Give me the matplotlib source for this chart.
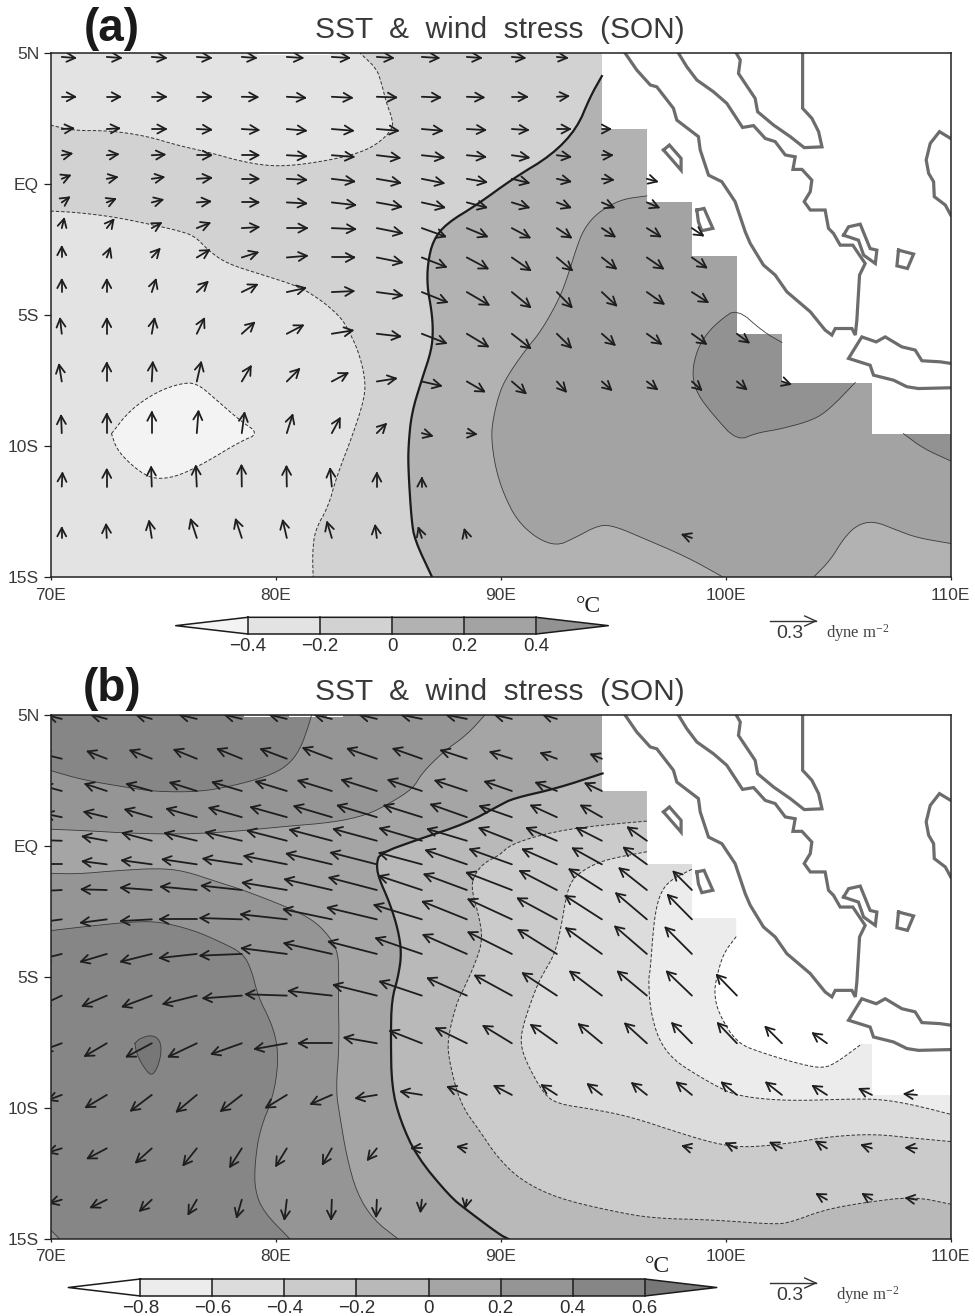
import numpy as np
import matplotlib
matplotlib.use('Agg')
import matplotlib.pyplot as plt
from matplotlib.collections import LineCollection

plt.rcParams['font.family'] = ['Liberation Sans', 'DejaVu Sans']
plt.rcParams['mathtext.default'] = 'regular'

W, H = 975, 1316
n = float('nan')

# ---------- axis labels ----------
X_TICKS = [70, 80, 90, 100, 110]
X_LABELS = ['70E', '80E', '90E', '100E', '110E']
Y_TICKS = [5, 0, -5, -10, -15]
Y_LABELS = ['5N', 'EQ', '5S', '10S', '15S']

# ---------- colour levels ----------
LEVELS_A = [-0.4, -0.2, 0, 0.2, 0.4]
COLORS_A = ['#f3f3f3', '#e3e3e3', '#d2d2d2', '#b2b2b2', '#a3a3a3', '#929292']
LEVELS_B = [-0.8, -0.6, -0.4, -0.2, 0, 0.2, 0.4, 0.6]
COLORS_B = ['#ffffff', '#ececec', '#dcdcdc', '#cbcbcb', '#b9b9b9', '#a5a5a5', '#959595', '#868686', '#777777']

# ---------- ocean mask (staircase edge of the SST grid), lon/lat ----------
MASK = [(94.5, 5), (94.5, 2.1), (96.5, 2.1), (96.5, -0.67), (98.5, -0.67), (98.5, -2.75), (100.5, -2.75),
        (100.5, -5.72), (102.5, -5.72), (102.5, -7.57), (106.5, -7.57), (106.5, -9.52), (110, -9.52), (110, 5)]
TOP_GAPS_A = [(79.2, 82.4)]
TOP_GAPS_B = [(78.6, 79.8), (80.6, 81.8), (82.3, 83.0)]

# ---------- coastlines, lon/lat ----------
COAST_SUMATRA = [(95.53, 5), (96.05, 4.35), (96.65, 3.78), (96.94, 3.71), (97.68, 2.89), (97.83, 2.44), (98.79, 1.81),
                 (98.87, 1.3), (99.24, 0.34), (99.83, 0.09), (100.42, -0.67), (100.87, -1.82), (101.09, -2.26),
                 (101.68, -3.09), (102.2, -3.47), (102.72, -4.11), (103.76, -4.87), (104.42, -5.57), (104.72, -5.76),
                 (104.87, -5.51), (105.61, -5.51), (105.76, -5.76), (105.83, -5.19), (105.95, -3.47), (106.2, -3.03),
                 (105.9, -2.65), (105.65, -2.33), (105.09, -2.33), (104.79, -1.88), (104.57, -1.69), (104.42, -0.99),
                 (103.76, -0.99), (103.49, -0.67), (103.76, -0.29), (103.83, 0.15), (103.39, 0.56), (102.99, 0.56),
                 (103.09, 1.04), (102.65, 1.11), (102.2, 1.62), (101.76, 1.74), (101.24, 2.23), (100.75, 2.16),
                 (100.05, 3.08), (99.46, 3.52), (98.72, 3.97), (98.27, 4.48), (97.9, 5)]
COAST_MALAY = [(100.47, 5), (100.65, 4.73), (100.57, 4.22), (101.31, 3.27), (101.42, 2.76), (102.13, 2.25),
               (102.87, 1.81), (103.49, 1.39), (104.28, 1.42), (104.13, 2.0), (103.83, 2.51), (103.42, 2.89), (103.42, 5)]
COAST_BANGKA = [(105.24, -1.95), (105.46, -1.63), (105.98, -1.53), (106.42, -2.46), (106.72, -2.52), (106.65, -3.03),
                (106.13, -2.71), (105.9, -2.14), (105.24, -1.95)]
COAST_BELITUNG = [(107.68, -2.52), (108.35, -2.67), (108.08, -3.22), (107.61, -3.12), (107.68, -2.52)]
COAST_NIAS = [(97.24, 1.3), (97.5, 1.49), (98.02, 0.98), (98.02, 0.53), (97.24, 1.3)]
COAST_SIBERUT = [(98.72, -0.99), (99.04, -0.93), (99.43, -1.69), (98.94, -1.78), (98.79, -1.44), (98.72, -0.99)]
COAST_BORNEO = [(110, 1.74), (109.5, 2.0), (109.09, 1.55), (108.91, 0.92), (109.02, 0.41), (109.24, 0.09),
                (109.27, -0.48), (109.76, -0.8), (110, -1.18)]
COAST_JAVA = [(110, -6.84), (109.53, -6.78), (108.72, -6.74), (108.42, -6.33), (107.83, -6.21), (107.09, -5.83),
              (106.69, -6.02), (106.05, -5.83), (105.46, -6.65), (106.42, -6.91), (106.57, -7.29), (107.46, -7.48),
              (108.05, -7.73), (108.57, -7.8), (110, -7.77)]
COASTS = [COAST_SUMATRA, COAST_MALAY, COAST_BANGKA, COAST_BELITUNG, COAST_NIAS, COAST_SIBERUT, COAST_BORNEO, COAST_JAVA]

# ---------- panel (a) contours, lon/lat ----------
A_M02_NORTH = [(70, 2.25), (71.0, 2.04), (72.64, 2.04), (74.27, 1.83), (75.6, 1.49), (77.08, 1.2), (78.41, 0.88),
               (79.6, 0.7), (80.64, 0.7), (81.97, 0.85), (83.45, 1.11), (84.49, 1.49), (85.23, 2.12), (85.16, 2.57),
               (84.93, 3.08), (84.71, 3.84), (84.49, 4.41), (83.75, 5)]
A_M02_SOUTH = [(70, -1.03), (71.16, -1.08), (72.8, -1.25), (74.4, -1.53), (75.6, -1.76), (76.41, -1.98), (77.0, -2.52),
               (77.82, -3.03), (79.45, -3.47), (81.08, -3.92), (82.12, -4.49), (82.86, -5.06), (83.16, -5.44),
               (83.67, -6.34), (83.97, -7.35), (83.97, -8.12), (83.45, -9.52), (82.71, -11.17), (82.34, -12.31),
               (81.75, -13.2), (81.64, -14.1), (81.67, -15)]
A_M04_BLOB = [(72.71, -9.52), (73.53, -8.62), (74.71, -7.93), (75.75, -7.61), (76.49, -7.58), (77.38, -8.24),
              (78.41, -9.01), (79.27, -9.52), (78.41, -9.83), (76.93, -10.6), (75.75, -11.11), (74.86, -11.26),
              (74.19, -11.11), (73.45, -10.6), (72.93, -10.09), (72.71, -9.52)]
A_ZERO = [(94.5, 4.12), (93.98, 3.33), (93.39, 2.12), (92.28, 1.11), (90.57, 0.22), (88.93, -0.8), (87.6, -1.5),
          (87.0, -2.14), (86.76, -3.03), (86.74, -3.92), (86.93, -4.81), (87.0, -5.57), (86.93, -6.34), (86.49, -7.48),
          (86.04, -8.75), (85.9, -10.02), (85.9, -10.9), (86.04, -12.82), (86.19, -13.59), (86.96, -15)]
A_P02 = [(96.5, -0.45), (95.46, -0.57), (94.72, -0.87), (94.13, -1.25), (93.68, -1.76), (93.39, -2.39), (93.02, -3.41),
         (92.65, -4.3), (91.83, -5.57), (91.16, -6.27), (90.42, -7.16), (89.98, -7.86), (89.68, -8.88), (89.58, -9.64),
         (89.76, -10.79), (90.13, -11.81), (90.72, -12.82), (91.61, -13.52), (92.5, -13.8), (93.24, -13.52),
         (94.42, -12.98), (95.16, -13.08), (96.2, -13.46), (98.27, -14.22), (99.9, -15)]
A_P02_SE = [(103.9, -15), (104.65, -14.35), (105.24, -13.52), (105.83, -13.01), (106.57, -12.85), (107.6, -13.2),
            (108.5, -13.49), (110, -13.71)]
A_P04_BLOB = [(102.5, -6.04), (101.68, -5.64), (100.5, -4.75), (99.76, -5.19), (99.16, -5.7), (98.72, -6.34),
              (98.5, -7.23), (98.72, -7.99), (99.46, -8.82), (100.5, -9.8), (101.39, -9.49), (102.42, -9.35),
              (103.9, -9.0), (104.65, -8.56), (105.76, -7.57)]
A_P04_CORNER = [(107.9, -9.52), (108.79, -10.09), (110, -10.56)]

# ---------- panel (b) contours, lon/lat ----------
B_P04_NORTH = [(70, 2.88), (71.45, 2.52), (73.38, 2.24), (74.71, 2.07), (76.64, 2.07), (78.12, 2.3), (79.6, 2.65),
               (80.49, 3.03), (81.08, 3.66), (81.45, 4.55), (81.6, 5)]
B_P02_NORTH = [(70, 0.64), (71.45, 0.59), (73.67, 0.48), (75.9, 0.45), (78.12, 0.55), (80.34, 0.74), (82.56, 0.9),
               (84.04, 1.18), (85.08, 1.63), (86.12, 2.2), (86.49, 2.77), (87.46, 3.6), (88.5, 4.24), (89.3, 5)]
B_P02_SOUTH = [(70, -1.04), (71.16, -1.07), (72.93, -0.94), (74.71, -0.85), (75.9, -0.94), (77.38, -1.36),
               (78.56, -1.68), (80.49, -2.32), (81.67, -2.82), (82.41, -3.46), (82.79, -4.1), (82.81, -5.11),
               (82.79, -5.62), (82.83, -7.65), (82.68, -9.31), (82.86, -10.33), (83.16, -11.85), (83.61, -13.25),
               (84.35, -14.27), (85.45, -15)]
B_P04_SOUTH = [(70, -3.23), (71.9, -3.04), (73.67, -2.89), (74.86, -2.89), (76.34, -3.21), (77.53, -3.65),
               (78.56, -4.1), (78.93, -4.73), (79.23, -5.75), (79.75, -6.64), (80.04, -7.4), (80.12, -8.29),
               (79.9, -9.56), (79.3, -10.84), (79.08, -12.11), (79.08, -13.13), (79.45, -13.95), (80.64, -15)]
B_P06_BLOB = [(73.75, -7.53), (73.97, -7.34), (74.5, -7.21), (74.86, -7.4), (74.93, -7.85), (74.78, -8.42),
              (74.49, -8.8), (74.12, -8.42), (73.82, -7.91), (73.75, -7.53)]
B_P02_CORNER = [(70, -14.65), (70.41, -15)]
B_ZERO = [(94.53, 2.77), (92.5, 2.2), (90.57, 1.82), (89.97, 1.56), (88.5, 0.87), (86.27, 0.23), (84.64, -0.28),
          (84.49, -0.66), (84.56, -1.17), (85.08, -2.19), (85.45, -3.21), (85.6, -4.1), (85.45, -4.99), (85.16, -5.87),
          (85.12, -7.27), (85.16, -9.18), (85.53, -10.45), (86.27, -11.85), (87.75, -13.38), (88.49, -13.89),
          (89.97, -14.84), (90.35, -15)]
B_M02 = [(96.5, 0.95), (95.02, 0.84), (93.24, 0.67), (91.76, 0.42), (90.42, 0.04), (89.97, -0.34), (89.23, -0.66),
         (88.79, -1.17), (88.71, -1.68), (89.08, -2.82), (89.19, -3.59), (88.93, -4.35), (88.41, -5.37), (88.04, -6.0),
         (87.67, -7.27), (87.67, -8.04), (88.19, -9.82), (89.09, -10.9), (89.83, -11.85), (90.87, -12.74), (92.5, -13.44),
         (95.02, -13.95), (96.79, -14.21), (99.46, -14.27), (102.13, -14.44), (102.87, -14.37), (104.35, -13.89),
         (106.13, -13.61), (108.35, -13.38), (110, -13.67)]
B_M04 = [(96.5, -0.22), (95.31, -0.41), (94.42, -0.6), (93.68, -0.92), (93.16, -1.3), (92.91, -1.93), (92.72, -2.95),
         (92.42, -4.1), (91.9, -4.86), (91.6, -5.36), (91.02, -6.76), (90.87, -7.53), (91.16, -8.29), (91.9, -9.44),
         (92.5, -9.84), (94.13, -10.05), (95.76, -10.33), (97.98, -10.96), (99.46, -11.34), (100.65, -11.5),
         (101.98, -11.43), (103.16, -11.3), (104.64, -11.09), (106.57, -10.99), (108.35, -11.15), (110, -11.28)]
B_M06 = [(98.5, -0.89), (97.53, -1.3), (97.09, -1.81), (96.87, -2.57), (96.76, -3.46), (96.65, -4.73), (96.57, -5.11),
         (96.65, -6.25), (97.02, -7.4), (97.68, -8.16), (98.72, -8.74), (99.9, -9.31), (100.57, -9.52), (101.68, -9.66),
         (103.16, -9.72), (105.39, -9.66), (106.87, -9.66), (108.35, -9.88), (110, -10.24)]
B_M08 = [(100.47, -3.46), (99.9, -4.1), (99.6, -5.0), (99.49, -5.62), (99.68, -6.38), (100.5, -7.53), (101.68, -7.91),
         (103.16, -8.29), (104.2, -8.48), (104.79, -8.35), (106.05, -7.55)]

# ---------- wind stress vectors (tail on this grid) ----------
LONS = [70.5, 72.5, 74.5, 76.5, 78.5, 80.5, 82.5, 84.5, 86.5, 88.5, 90.5, 92.5, 94.5, 96.5, 98.5, 100.5, 102.5, 104.5, 106.5, 108.5]
LATS = [4.85, 3.33, 2.1, 1.1, 0.2, -0.7, -1.68, -2.8, -4.12, -5.71, -7.53, -9.5, -11.54, -13.5]
KEY_READ = 137.0

U_A = [
 [40, 42, 42, 42, 42, 47, 52, 48, 50, 42, 38, 30, n, n, n, n, n, n, n, n],
 [40, 40, 42, 43, 47, 55, 60, 58, 55, 50, 45, 34, n, n, n, n, n, n, n, n],
 [34, 37, 42, 43, 50, 57, 63, 63, 60, 55, 48, 39, 25, n, n, n, n, n, n, n],
 [29, 33, 38, 43, 50, 58, 65, 68, 65, 55, 50, 40, 30, n, n, n, n, n, n, n],
 [24, 30, 35, 43, 50, 58, 67, 70, 65, 58, 50, 40, 33, 30, n, n, n, n, n, n],
 [22, 25, 32, 40, 50, 58, 70, 73, 67, 58, 50, 40, 35, 35, n, n, n, n, n, n],
 [7, 20, 27, 38, 50, 60, 70, 75, 70, 60, 53, 42, 38, 40, 33, n, n, n, n, n],
 [0, 10, 23, 37, 47, 60, 67, 75, 72, 62, 55, 45, 42, 48, 43, n, n, n, n, n],
 [0, 0, 12, 32, 45, 55, 65, 75, 75, 65, 55, 44, 43, 50, 47, n, n, n, n, n],
 [-5, 0, 8, 22, 37, 48, 62, 70, 72, 63, 55, 42, 38, 42, 42, 35, n, n, n, n],
 [-8, 0, 3, 13, 27, 37, 47, 57, 57, 52, 41, 27, 28, 30, 28, 28, 25, n, n, n],
 [-2, 0, 0, 5, 8, 17, 24, 27, 30, 27, n, n, n, n, n, n, n, n, n, n],
 [2, 0, -2, -3, -1, -1, -5, 0, 0, n, n, n, n, n, n, n, n, n, n, n],
 [0, -2, -8, -18, -18, -12, -14, -5, -10, -7, n, n, n, n, -28, n, n, n, n, n],
]
V_A = [
 [-3, -3, -3, -3, -3, -3, -3, -3, -3, -3, -3, -3, n, n, n, n, n, n, n, n],
 [0, 0, 0, 0, -1, -3, -3, -2, -2, -2, 0, 2, n, n, n, n, n, n, n, n],
 [2, 2, 0, -2, -3, -5, -5, -5, -5, -3, -3, 0, 0, n, n, n, n, n, n, n],
 [5, 3, 2, 0, 0, -3, -5, -8, -7, -5, -7, -5, 0, n, n, n, n, n, n, n],
 [10, 5, 5, 3, 0, -3, -8, -12, -13, -10, -12, -8, -3, -8, n, n, n, n, n, n],
 [15, 10, 8, 3, 0, -3, -8, -13, -15, -15, -15, -15, -15, -15, n, n, n, n, n, n],
 [28, 25, 15, 15, 3, 0, -3, -15, -25, -25, -28, -28, -25, -25, -22, n, n, n, n, n],
 [32, 27, 25, 22, 15, 5, 0, -15, -28, -33, -38, -38, -33, -33, -30, n, n, n, n, n],
 [37, 37, 37, 30, 22, 12, 3, -10, -30, -38, -45, -45, -40, -35, -30, n, n, n, n, n],
 [45, 45, 45, 45, 33, 25, 10, -8, -28, -38, -43, -41, -33, -30, -30, -26, n, n, n, n],
 [50, 55, 57, 57, 45, 37, 25, 9, -13, -30, -35, -30, -25, -23, -25, -23, -8, n, n, n],
 [52, 57, 62, 65, 60, 54, 44, 27, -8, -3, n, n, n, n, n, n, n, n, n, n],
 [40, 51, 58, 61, 63, 60, 53, 40, 25, n, n, n, n, n, n, n, n, n, n, n],
 [30, 40, 50, 55, 55, 52, 47, 37, 30, 25, n, n, n, n, 10, n, n, n, n, n],
]
U_B = [
 [-40, -45, -45, -50, -50, -50, -50, -50, -60, -60, -50, -40, n, n, n, n, n, n, n, n],
 [-60, -57, -64, -67, -72, -77, -85, -87, -85, -77, -64, -47, -32, n, n, n, n, n, n, n],
 [-55, -64, -74, -79, -87, -92, -100, -104, -100, -94, -80, -62, -49, n, n, n, n, n, n, n],
 [-50, -67, -79, -89, -97, -107, -112, -117, -112, -107, -95, -77, -62, n, n, n, n, n, n, n],
 [-60, -72, -87, -95, -107, -117, -125, -129, -125, -117, -97, -90, -75, -57, n, n, n, n, n, n],
 [-60, -72, -89, -102, -115, -127, -135, -137, -127, -122, -125, -102, -87, -69, n, n, n, n, n, n],
 [-60, -75, -92, -107, -120, -132, -140, -142, -127, -127, -135, -110, -97, -82, -55, n, n, n, n, n],
 [-60, -77, -92, -110, -124, -137, -144, -147, -142, -132, -130, -117, -109, -92, -72, n, n, n, n, n],
 [-60, -77, -92, -110, -124, -135, -142, -144, -137, -130, -130, -115, -107, -95, -79, n, n, n, n, n],
 [-60, -72, -87, -100, -115, -122, -129, -129, -125, -117, -110, -102, -95, -87, -75, -60, n, n, n, n],
 [-55, -65, -75, -84, -90, -95, -99, -97, -95, -92, -85, -77, -69, -65, -59, -57, -49, -42, n, n],
 [-40, -62, -62, -60, -62, -62, -62, -62, -62, -57, -52, -45, -42, -44, -45, -45, -47, -42, -37, -37],
 [-40, -57, -47, -40, -35, -32, -27, -27, -30, -27, n, n, n, n, -27, -32, -34, -32, -30, -32],
 [-35, -47, -35, -25, -15, -7, -2, -2, -4, -5, n, n, n, n, n, n, n, -30, -27, -32],
]
V_B = [
 [10, 12, 12, 12, 12, 12, 12, 12, 12, 12, 12, 12, n, n, n, n, n, n, n, n],
 [15, 22, 25, 27, 29, 29, 32, 30, 30, 25, 20, 17, 13, n, n, n, n, n, n, n],
 [15, 21, 21, 25, 26, 28, 31, 33, 33, 31, 28, 25, 23, n, n, n, n, n, n, n],
 [10, 16, 23, 25, 28, 30, 33, 35, 35, 38, 33, 35, 35, n, n, n, n, n, n, n],
 [2, 13, 23, 23, 25, 30, 33, 35, 37, 35, 38, 38, 38, 40, n, n, n, n, n, n],
 [0, 9, 12, 15, 17, 25, 32, 35, 34, 42, 45, 45, 48, 50, n, n, n, n, n, n],
 [-3, 2, 7, 10, 13, 22, 32, 37, 42, 47, 52, 57, 62, 65, 55, n, n, n, n, n],
 [-8, -10, -5, 0, 4, 15, 30, 35, 43, 53, 60, 63, 70, 78, 73, n, n, n, n, n],
 [-15, -23, -23, -12, -5, 17, 32, 37, 47, 57, 65, 72, 77, 82, 79, n, n, n, n, n],
 [-28, -31, -33, -25, -8, 4, 14, 32, 42, 52, 60, 67, 72, 72, 72, 62, n, n, n, n],
 [-20, -38, -40, -40, -32, -17, 0, 17, 37, 45, 52, 55, 57, 59, 60, 60, 49, 30, n, n],
 [-15, -37, -47, -50, -48, -38, -27, -10, 10, 24, 27, 29, 32, 35, 37, 37, 37, 27, 18, 3],
 [-12, -30, -42, -50, -55, -52, -47, -34, 0, 5, n, n, n, n, 7, 15, 17, 20, 10, 2],
 [-10, -23, -33, -43, -52, -58, -58, -50, -35, -23, n, n, n, n, n, n, n, 17, 17, 5],
]

KEY_PX = 45.7      # drawn length of the key arrow, pixels
PX_LON = 900.2 / 40
PX_LAT = 524.0 / 20
BARB_PX = 9.5
BARB_ANG = np.deg2rad(28)


def rounded(pts, passes=2):
    """Round the corners of a traced contour; the end points stay where they are."""
    for _ in range(passes):
        out = [pts[0]]
        for (x0, y0), (x1, y1) in zip(pts[:-1], pts[1:]):
            out.append((0.75 * x0 + 0.25 * x1, 0.75 * y0 + 0.25 * y1))
            out.append((0.25 * x0 + 0.75 * x1, 0.25 * y0 + 0.75 * y1))
        out.append(pts[-1])
        pts = out
    return pts


def arrow_segments(lons, lats, us, vs):
    """V-headed arrows in data coordinates."""
    segs = []
    for la, ru, rv in zip(lats, us, vs):
        for lo, u, v in zip(lons, ru, rv):
            if np.isnan(u) or np.isnan(v):
                continue
            px = u / KEY_READ * KEY_PX
            py = v / KEY_READ * KEY_PX
            hx, hy = lo + px / PX_LON, la + py / PX_LAT
            segs.append([(lo, la), (hx, hy)])
            a = np.arctan2(py, px)
            for s in (-1, 1):
                b = a + np.pi + s * BARB_ANG
                segs.append([(hx, hy), (hx + BARB_PX * np.cos(b) / PX_LON, hy + BARB_PX * np.sin(b) / PX_LAT)])
    return segs


def fill(ax, pts, color, z=1):
    xs, ys = zip(*pts)
    ax.fill(xs, ys, color=color, lw=0, zorder=z)


def line(ax, pts, kind):
    xs, ys = zip(*rounded(pts))
    if kind == 'zero':
        ax.plot(xs, ys, color='#1c1c1c', lw=1.6, zorder=3, solid_joinstyle='round')
    elif kind == 'pos':
        ax.plot(xs, ys, color='#3a3a3a', lw=0.6, zorder=3, solid_joinstyle='round')
    else:
        ax.plot(xs, ys, color='#333333', lw=0.7, zorder=3, linestyle=(0, (3.5, 2)))


def make_map(top, bottom, title_y, letter, letter_y, base):
    ax = fig.add_axes([50.5 / W, 1 - bottom / H, 900.2 / W, (bottom - top) / H])
    ax.set_xlim(70, 110)
    ax.set_ylim(-15, 5)
    ax.set_facecolor(base)
    ax.set_xticks(X_TICKS, X_LABELS)
    ax.set_yticks(Y_TICKS, Y_LABELS)
    ax.tick_params(axis='x', length=2.5, width=0.9, pad=5, labelsize=12.5, labelcolor='#3a3a3a', color='#222222')
    ax.tick_params(axis='y', length=4.7, width=0.9, pad=3.5, labelsize=12.5, labelcolor='#3a3a3a', color='#222222')
    for s in ax.spines.values():
        s.set_linewidth(1.1)
        s.set_color('#222222')
        s.set_zorder(6)
    fig.text(500 / W, 1 - title_y / H, 'SST  &  wind  stress  (SON)', ha='center', va='center', fontsize=21.5,
             color='#3a3a3a')
    fig.text(112 / W, 1 - letter_y / H, letter, ha='center', va='center', fontsize=33, fontweight='bold',
             color='#1a1a1a')
    return ax


def finish_map(ax, us, vs, gaps):
    fill(ax, MASK, 'white', z=2)
    for a, b in gaps:
        fill(ax, [(a, 4.94), (b, 4.94), (b, 5), (a, 5)], 'white', z=2)
    for c in COASTS:
        xs, ys = zip(*c)
        ax.plot(xs, ys, color='#6c6c6c', lw=2.3, zorder=3, solid_joinstyle='miter')
    ax.add_collection(LineCollection(arrow_segments(LONS, LATS, us, vs), colors='#1e1e1e', linewidths=1.3,
                                     capstyle='round', zorder=4))


def colorbar(x0, x1, y0, y1, levels, colors):
    cax = fig.add_axes([x0 / W, 1 - y1 / H, (x1 - x0) / W, (y1 - y0) / H])
    step = levels[1] - levels[0]
    cax.set_xlim(levels[0] - step, levels[-1] + step)
    cax.set_ylim(0, 1)
    cax.axis('off')
    cax.fill([levels[0] - step, levels[0], levels[0]], [0.5, 1, 0], color=colors[0], lw=0)
    cax.fill([levels[-1] + step, levels[-1], levels[-1]], [0.5, 1, 0], color=colors[-1], lw=0)
    for lo, hi, c in zip(levels[:-1], levels[1:], colors[1:-1]):
        cax.fill([lo, hi, hi, lo], [0, 0, 1, 1], color=c, lw=0)
    cax.plot([levels[0], levels[0] - step, levels[0], levels[-1], levels[-1] + step, levels[-1], levels[0]],
             [1, 0.5, 0, 0, 0.5, 1, 1], color='#1c1c1c', lw=1.1, clip_on=False)
    for lv in levels:
        cax.plot([lv, lv], [0, 1], color='#1c1c1c', lw=1.1, clip_on=False)
        lab = '0' if lv == 0 else f'{lv:.1f}'.replace('-', '\u2212')
        cax.text(lv, -0.72, lab, ha='center', va='center', fontsize=13.5, color='#2e2e2e', clip_on=False)


def key(x, y, tx):
    """Key arrow and its labels; positions in pixels of the figure."""
    seg = [[(x, y), (x + KEY_PX, y)],
           [(x + KEY_PX, y), (x + KEY_PX - 11, y - 5)],
           [(x + KEY_PX, y), (x + KEY_PX - 11, y + 5)]]
    for s in seg:
        fig.add_artist(plt.Line2D([p[0] / W for p in s], [1 - p[1] / H for p in s], color='#333333', lw=1.0,
                                  transform=fig.transFigure))
    fig.text((x + 20) / W, 1 - (y + 13) / H, '0.3', ha='center', va='center', fontsize=14, color='#3a3a3a')
    fig.text(tx / W, 1 - (y + 12) / H, r'dyne m$^{-2}$', ha='left', va='center', fontsize=12,
             family='Liberation Serif', color='#444444')


fig = plt.figure(figsize=(W / 100, H / 100), dpi=100, facecolor='white')

# ---------- panel (a) ----------
ax = make_map(53, 577.3, 30, '(a)', 29, COLORS_A[2])
fill(ax, rounded(A_M02_NORTH) + [(70, 5)], COLORS_A[1])
fill(ax, rounded(A_M02_SOUTH) + [(70, -15)], COLORS_A[1])
fill(ax, rounded(A_M04_BLOB), COLORS_A[0])
fill(ax, rounded(A_ZERO) + [(110, -15), (110, 4.12)], COLORS_A[3])
fill(ax, rounded(A_P02) + rounded(A_P02_SE) + [(110, 5), (96.5, 5)], COLORS_A[4])
fill(ax, rounded(A_P04_BLOB), COLORS_A[5])
fill(ax, rounded(A_P04_CORNER) + [(110, -9.52)], COLORS_A[5])
for c in (A_M02_NORTH, A_M02_SOUTH, A_M04_BLOB):
    line(ax, c, 'neg')
for c in (A_P02, A_P02_SE, A_P04_BLOB, A_P04_CORNER):
    line(ax, c, 'pos')
line(ax, A_ZERO, 'zero')
finish_map(ax, U_A, V_A, TOP_GAPS_A)
colorbar(175.7, 608.3, 617.3, 634, LEVELS_A, COLORS_A)
key(770, 621, 826)
fig.text(588 / W, 1 - 606 / H, '\u00b0C', ha='center', va='center', fontsize=17, family='Liberation Serif',
         color='#222222')

# ---------- panel (b) ----------
ax = make_map(715, 1239, 692, '(b)', 689, COLORS_B[5])
fill(ax, rounded(B_P02_NORTH) + [(70, 5)], COLORS_B[6])
fill(ax, rounded(B_P04_NORTH) + [(70, 5)], COLORS_B[7])
fill(ax, rounded(B_P02_SOUTH) + [(70, -15)], COLORS_B[6])
fill(ax, rounded(B_P04_SOUTH) + [(70, -15)], COLORS_B[7])
fill(ax, B_P02_CORNER + [(70, -15)], COLORS_B[6])
fill(ax, rounded(B_P06_BLOB), COLORS_B[8])
fill(ax, rounded(B_ZERO) + [(110, -15), (110, 2.77)], COLORS_B[4])
fill(ax, rounded(B_M02) + [(110, 5), (96.5, 5)], COLORS_B[3])
fill(ax, rounded(B_M04) + [(110, 5), (96.5, 5)], COLORS_B[2])
fill(ax, rounded(B_M06) + [(110, 5), (98.5, 5)], COLORS_B[1])
fill(ax, rounded(B_M08) + [(106.5, -7.55), (106.5, 5), (100.47, 5)], COLORS_B[0])
for c in (B_P04_NORTH, B_P02_NORTH, B_P02_SOUTH, B_P04_SOUTH, B_P06_BLOB, B_P02_CORNER):
    line(ax, c, 'pos')
for c in (B_M02, B_M04, B_M06, B_M08):
    line(ax, c, 'neg')
line(ax, B_ZERO, 'zero')
finish_map(ax, U_B, V_B, TOP_GAPS_B)
colorbar(68.3, 716.7, 1279, 1296, LEVELS_B, COLORS_B)
key(770, 1283, 836)
fig.text(657 / W, 1 - 1266 / H, '\u00b0C', ha='center', va='center', fontsize=17, family='Liberation Serif',
         color='#222222')

fig.savefig('out.png', dpi=100, facecolor='white')
